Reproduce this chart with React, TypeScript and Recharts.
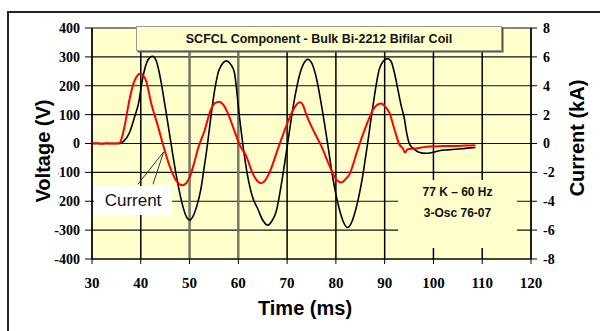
import { ComposedChart, Line, XAxis, YAxis, CartesianGrid, ReferenceLine } from "recharts";

// Voltage trace (black), time in ms, volts
const voltageTimes = [
  30, 33, 35.6, 36.5, 37.7, 38.7, 39.7, 40.1, 40.8, 41.5, 42.4, 43.2, 43.8, 44.5, 45.2, 46.2, 47.3, 48.6, 49.3,
  50.0, 50.7, 51.5, 52.3, 53.05, 53.7, 54.4, 55.2, 56.1, 57.6, 58.4, 59.2, 60.2, 60.9, 61.9, 63.0, 64.0, 65.0,
  66.0, 67.0, 67.7, 69.1, 70.1, 71.5, 72.5, 73.5, 74.2, 75.0, 75.9, 77.3, 78.3, 79.3, 80.7, 81.5, 82.4, 83.3,
  84.1, 85.5, 86.5, 87.5, 88.9, 89.7, 90.6, 91.3, 92.0, 92.7, 93.4, 94.0, 94.5, 95.1, 96.1, 97.0, 98.5, 100.0,
  101.2, 103.0, 104.6, 106.5, 108.6,
];
const voltageValues = [
  0, 0, 0, 8, 38, 90, 153, 199, 257, 290, 302, 285, 245, 180, 107, 0, -112, -216, -252,
  -265, -252, -216, -160, -77, 0, 96, 190, 257, 286, 275, 245, 96, 0, -112, -190, -227, -265,
  -283, -265, -239, -112, 0, 153, 234, 280, 292, 280, 234, 107, 0, -112, -227, -270, -291, -270,
  -227, -112, 0, 119, 257, 285, 294, 285, 245, 188, 130, 90, 38, -2, -20, -30, -34, -30,
  -25, -22, -20, -17, -14,
];

// Current trace (red), time in ms, kA
const currentTimes = [
  30, 31, 32, 33, 34, 35.6, 36.2, 36.7, 37.7, 38.7, 39.3, 39.9, 40.5, 41.1, 42.1, 43.5, 44.5, 45.9, 47.3, 48.5,
  49.3, 50.0, 50.9, 51.7, 53.05, 54.4, 55.2, 56.1, 56.9, 57.8, 59.2, 60.2, 61.6, 63.0, 63.9, 64.7, 65.5, 66.4,
  68.1, 70.1, 71.2, 72.2, 72.7, 73.2, 73.9, 75.6, 77.0, 78.7, 80.0, 81.1, 81.9, 82.8, 84.5, 86.2, 87.9, 89.3,
  90.0, 91.0, 92.0, 93.0, 93.7, 94.2, 94.7, 96.1, 97.5, 99.2, 102.0, 104.6, 106.5, 108.6,
];
const currentValues = [
  0, 0.02, -0.02, 0.01, 0, 0.02, 0.5, 1.22, 3.07, 4.33, 4.7, 4.84, 4.7, 4.33, 2.84, 1.22, 0, -1.55, -2.59, -2.89,
  -2.75, -2.35, -1.4, -0.39, 0.87, 2.37, 2.8, 2.9, 2.7, 2.14, 0.87, -0.05, -0.86, -2.12, -2.6, -2.75, -2.55, -2.0,
  -0.39, 1.45, 2.3, 2.79, 2.85, 2.7, 2.03, 0.76, -0.17, -1.55, -2.47, -2.7, -2.5, -2.12, -0.39, 1.22, 2.49, 2.77,
  2.6, 2.1, 0.99, -0.05, -0.33, -0.62, -0.39, -0.35, -0.28, -0.2, -0.18, -0.17, -0.14, -0.12,
];

const timeTicks = [30, 40, 50, 60, 70, 80, 90, 100, 110, 120];
const voltageTicks = [-400, -300, -200, -100, 0, 100, 200, 300, 400];
const currentTicks = [-8, -6, -4, -2, 0, 2, 4, 6, 8];

// "Current" callout pointer: two legs from the label box to the red trace
const calloutTip = { x: 44.7, y: -29 };
const calloutBase = [{ x: 39.4, y: -141 }, { x: 42.5, y: -141 }];

const voltageData = voltageTimes.map((t, i) => ({ t, v: voltageValues[i] }));
const currentData = currentTimes.map((t, i) => ({ t, c: currentValues[i] }));

const SERIF = "'Liberation Serif', 'Times New Roman', serif";
const SANS = "'Liberation Sans', Arial, sans-serif";
const PLOT_BG = "#FFFFCC";

// recharts drops font props from the tick object, so draw the tick text ourselves
function SerifTick(props: any) {
  const { x, y, payload, textAnchor, dy, size } = props;
  return (
    <text x={x} y={y} dy={dy} textAnchor={textAnchor} fill="#000" fontSize={size}
          fontWeight="bold" fontFamily={SERIF}>
      {payload.value}
    </text>
  );
}

export default function App() {
  return (
    <div style={{ position: "absolute", left: 0, top: 0, width: 600, height: 331, overflow: "hidden", background: "#fff", fontFamily: SANS }}>
      <div style={{ position: "absolute", left: 7, top: 11, width: 700, height: 400, border: "2px solid #222" }} />
      <div style={{ position: "absolute", left: 0, top: 0 }}>
        <ComposedChart width={600} height={331} margin={{ top: 28, right: 0, bottom: 42, left: 0 }}>
          <CartesianGrid yAxisId="v" vertical={false} stroke="#111" strokeWidth={1.1} fill={PLOT_BG} fillOpacity={1} />
          <CartesianGrid yAxisId="v" horizontal={false} stroke="#000" strokeWidth={1.5} />
          <XAxis
            type="number" dataKey="t" domain={[30, 120]} ticks={timeTicks} allowDataOverflow
            height={30} tickSize={5} tickMargin={13}
            tick={(p: any) => <SerifTick {...p} dy="0.71em" size={15} />}
            tickLine={{ stroke: "#000" }} axisLine={{ stroke: "#000" }}
          />
          <YAxis
            yAxisId="v" domain={[-400, 400]} ticks={voltageTicks} width={92} tickSize={7} tickMargin={5}
            tick={(p: any) => <SerifTick {...p} dy="0.355em" size={14} />}
            tickLine={{ stroke: "#000" }} axisLine={{ stroke: "#000" }} allowDataOverflow
          />
          <YAxis
            yAxisId="c" orientation="right" domain={[-8, 8]} ticks={currentTicks} width={69} tickSize={6} tickMargin={6}
            tick={(p: any) => <SerifTick {...p} dy="0.355em" size={14} />}
            tickLine={{ stroke: "#000" }} axisLine={{ stroke: "#000" }} allowDataOverflow
          />
          <ReferenceLine yAxisId="v" x={50} stroke="#77776a" strokeWidth={2.2} />
          <ReferenceLine yAxisId="v" x={60} stroke="#77776a" strokeWidth={2.2} />
          {calloutBase.map((p, i) => (
            <ReferenceLine key={i} yAxisId="v" segment={[p, calloutTip]} stroke="#333" strokeWidth={1} ifOverflow="visible" />
          ))}
          <Line data={voltageData} yAxisId="v" dataKey="v" type="monotone" stroke="#000" strokeWidth={1.6}
                dot={false} activeDot={false} isAnimationActive={false} />
          <Line data={currentData} yAxisId="c" dataKey="c" type="monotone" stroke="#FF0000" strokeWidth={2}
                dot={false} activeDot={false} isAnimationActive={false} />
        </ComposedChart>
      </div>

      {/* title box */}
      <div style={{
        position: "absolute", left: 136, top: 26, width: 364, height: 23, background: PLOT_BG,
        border: "1px solid #999", boxShadow: "1.5px 1.5px 0 #555", display: "flex",
        alignItems: "center", justifyContent: "center", fontSize: 12.5, fontWeight: "bold", color: "#111",
      }}>
        SCFCL Component - Bulk Bi-2212 Bifilar Coil
      </div>

      {/* conditions box */}
      <div style={{
        position: "absolute", left: 398, top: 180, width: 119, height: 68, background: PLOT_BG,
        fontSize: 12, fontWeight: "bold", color: "#111", textAlign: "center",
      }}>
        <div style={{ position: "absolute", left: 0, right: 0, top: 5, lineHeight: "14px" }}>77 K – 60 Hz</div>
        <div style={{ position: "absolute", left: 0, right: 0, top: 26, lineHeight: "14px" }}>3-Osc 76-07</div>
      </div>

      {/* Current label */}
      <div style={{
        position: "absolute", left: 94, top: 186, width: 78, height: 29, background: "#fff",
        display: "flex", alignItems: "center", justifyContent: "center", fontSize: 17, color: "#111",
      }}>
        Current
      </div>

      {/* axis titles */}
      <div style={{
        position: "absolute", left: 44, top: 151, transform: "translate(-50%, -50%) rotate(-90deg)",
        background: "#fff", padding: "0 4px 2px 4px", fontSize: 20, fontWeight: "bold", whiteSpace: "nowrap", lineHeight: "26px",
      }}>
        Voltage (V)
      </div>
      <div style={{
        position: "absolute", left: 577, top: 138, transform: "translate(-50%, -50%) rotate(-90deg)",
        fontSize: 20, fontWeight: "bold", whiteSpace: "nowrap", lineHeight: "22px",
      }}>
        Current (kA)
      </div>
      <div style={{
        position: "absolute", left: 305, top: 308, transform: "translate(-50%, -50%)",
        fontSize: 20, fontWeight: "bold", whiteSpace: "nowrap", lineHeight: "22px",
      }}>
        Time (ms)
      </div>
    </div>
  );
}
